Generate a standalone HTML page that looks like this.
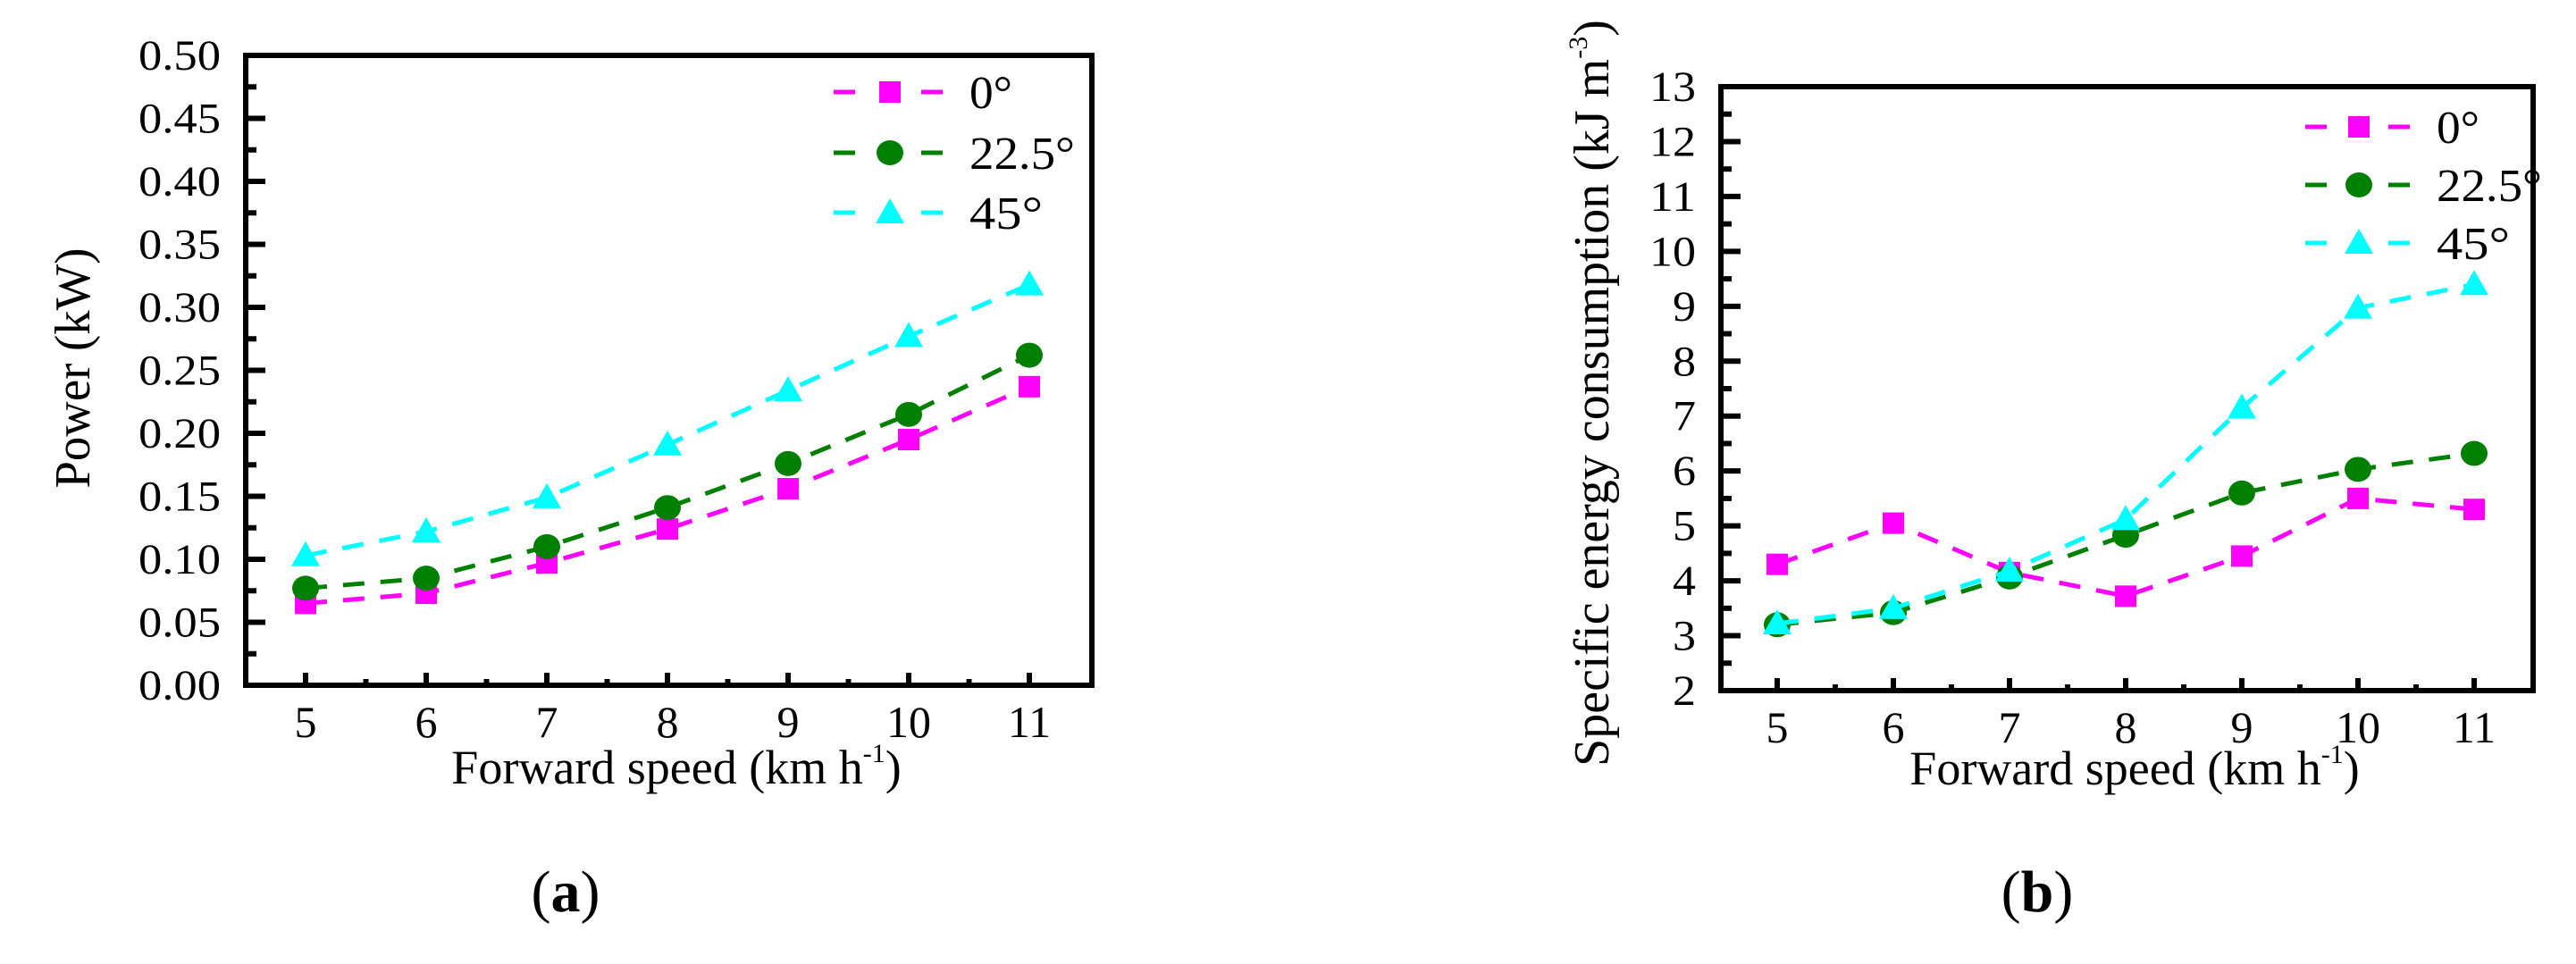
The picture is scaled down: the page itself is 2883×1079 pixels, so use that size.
<!DOCTYPE html>
<html><head><meta charset="utf-8"><style>
html,body{margin:0;padding:0;background:#fff}
svg{display:block}
svg text, svg tspan{font-family:"Liberation Serif","DejaVu Serif",serif;fill:#000}
</style></head><body>
<svg id="root" width="2883" height="1079" viewBox="0 0 2883 1079" xmlns="http://www.w3.org/2000/svg">
<g id="chartA"></g>
<g id="chartB"></g>
<text x="633" y="1020" font-size="66" style="font-family:'Liberation Serif','DejaVu Serif',serif" text-anchor="middle">(<tspan font-weight="bold">a</tspan>)</text>
<text x="2280" y="1020" font-size="66" style="font-family:'Liberation Serif','DejaVu Serif',serif" text-anchor="middle">(<tspan font-weight="bold">b</tspan>)</text>
</svg>
<script>
const speeds = [5, 6, 7, 8, 9, 10, 11];
const seriesNames = ["0°", "22.5°", "45°"];
const powerDeg0 = [0.065, 0.073, 0.097, 0.124, 0.156, 0.195, 0.237];
const powerDeg22 = [0.077, 0.085, 0.110, 0.141, 0.176, 0.215, 0.262];
const powerDeg45 = [0.103, 0.122, 0.149, 0.191, 0.234, 0.277, 0.318];
const energyDeg0 = [4.30, 5.05, 4.15, 3.72, 4.45, 5.50, 5.30];
const energyDeg22 = [3.20, 3.42, 4.07, 4.83, 5.60, 6.03, 6.32];
const energyDeg45 = [3.22, 3.50, 4.18, 5.12, 7.15, 8.97, 9.40];
const powerTicks = ["0.00","0.05","0.10","0.15","0.20","0.25","0.30","0.35","0.40","0.45","0.50"];
const energyTicks = ["2","3","4","5","6","7","8","9","10","11","12","13"];

const NS = "http://www.w3.org/2000/svg";
const ST = "font-family:'Liberation Serif','DejaVu Serif',serif;fill:#000";
const colors = ["#ff00ff", "#007f00", "#00ffff"];
const shapes = ["square", "circle", "triangle"];
function mk(tag, attrs, parent){const e=document.createElementNS(NS,tag);for(const k in attrs)e.setAttribute(k,attrs[k]);parent.appendChild(e);return e;}
function txt(g, x, y, size, anchor, content, name, extra){
  g.insertAdjacentHTML('beforeend', '<text x="'+x+'" y="'+y+'" font-size="'+size+'" text-anchor="'+anchor+'" style="'+ST+'" '+(extra||'')+'>'+content+'</text>');
}

function marker(g, shape, cx, cy, color){
  let e;
  if(shape==="square") e=mk("rect",{x:cx-12,y:cy-12,width:24,height:24,fill:color},g);
  else if(shape==="circle") e=mk("ellipse",{cx:cx,cy:cy,rx:15,ry:14,fill:color},g);
  else e=mk("polygon",{points:`${cx},${cy-16} ${cx+16},${cy+12} ${cx-16},${cy+12}`,fill:color},g);
  
  
}

function drawChart(g, cfg){
  const {L,R,T,B,x0,x1,ymin,ymax,ticks,series,leg} = cfg;
  const xs = v => x0 + (v-speeds[0])/(speeds[speeds.length-1]-speeds[0])*(x1-x0);
  const ys = v => B - (v-ymin)/(ymax-ymin)*(B-T);
  const step = (ymax-ymin)/(ticks.length-1);
  ticks.forEach((t,i)=>{
    const v = ymin+i*step, y=ys(v);
    const tk=mk("line",{x1:L,y1:y,x2:L+22,y2:y,stroke:"#000","stroke-width":6},g);
    
    
    if(i<ticks.length-1){
      const m=mk("line",{x1:L,y1:ys(v+step/2),x2:L+12,y2:ys(v+step/2),stroke:"#000","stroke-width":6},g);
      
      
    }
    const tl = t.length*26-(t.includes('.')?12:0);
    txt(g, L-28, y+16, 48, "end", t, "y-tick-label", 'textLength="'+tl+'" lengthAdjust="spacingAndGlyphs"');
  });
  speeds.forEach((s,i)=>{
    const x=xs(s);
    const tk=mk("line",{x1:x,y1:B,x2:x,y2:B-14,stroke:"#000","stroke-width":6},g);
    
    
    if(i<speeds.length-1){
      const m=mk("line",{x1:(x+xs(speeds[i+1]))/2,y1:B,x2:(x+xs(speeds[i+1]))/2,y2:B-7,stroke:"#000","stroke-width":6},g);
      
      
    }
    txt(g, x, B+58, 50, "middle", String(s), "x-tick-label");
  });
  series.forEach((vals,si)=>{
    const sg=mk("g",{},g);
    
    
    const pts=vals.map((v,i)=>xs(speeds[i])+","+ys(v)).join(" ");
    const pl=mk("polyline",{points:pts,fill:"none",stroke:colors[si],"stroke-width":5,"stroke-dasharray":"24 18"},sg);
    
    
    vals.forEach((v,i)=>marker(sg,shapes[si],xs(speeds[i]),ys(v),colors[si]));
  });
  const fr=mk("rect",{x:L,y:T,width:R-L,height:B-T,fill:"none",stroke:"#000","stroke-width":6},g);
  
  
  const lg=mk("g",{},g);
  
  
  seriesNames.forEach((n,i)=>{
    const y=leg.y[i];
    const e=mk("g",{},lg);
    
    
    mk("line",{x1:leg.x0,y1:y,x2:leg.x0+24,y2:y,stroke:colors[i],"stroke-width":5},e);
    mk("line",{x1:leg.x1-24,y1:y,x2:leg.x1,y2:y,stroke:colors[i],"stroke-width":5},e);
    marker(e,shapes[i],leg.mx,y,colors[i]);
    txt(e, leg.tx, y+18, 52, "start", n, "legend-label", 'textLength="'+[48,118,82][i]+'" lengthAdjust="spacingAndGlyphs"');
  });
}

drawChart(document.getElementById("chartA"),{L:275,R:1222,T:62,B:767,x0:342,x1:1152,ymin:0,ymax:0.5,ticks:powerTicks,
  series:[powerDeg0,powerDeg22,powerDeg45],leg:{x0:933,x1:1055,mx:996,tx:1085,y:[103,171,238]}});
drawChart(document.getElementById("chartB"),{L:1926,R:2835,T:97,B:773,x0:1989,x1:2769,ymin:2,ymax:13,ticks:energyTicks,
  series:[energyDeg0,energyDeg22,energyDeg45],leg:{x0:2580,x1:2697,mx:2640,tx:2727,y:[142,207,272]}});

(function(){
  const root=document.getElementById("root");
  txt(root, 757, 877, 54, "middle", 'Forward speed (km h<tspan font-size="30" dy="-24">-1</tspan><tspan dy="24">)</tspan>', "x-axis-title-a");
  txt(root, 2389, 878, 54, "middle", 'Forward speed (km h<tspan font-size="30" dy="-24">-1</tspan><tspan dy="24">)</tspan>', "x-axis-title-b");
  txt(root, 0, 0, 56, "middle", 'Power (kW)', "y-axis-title-a", 'transform="translate(100,412) rotate(-90)" textLength="269" lengthAdjust="spacingAndGlyphs"');
  txt(root, 0, 0, 56, "middle", 'Specific energy consumption (kJ m<tspan font-size="30" dy="-24">-3</tspan><tspan dy="24">)</tspan>', "y-axis-title-b", 'transform="translate(1800,440) rotate(-90)"');
})();
</script>
</body></html>
